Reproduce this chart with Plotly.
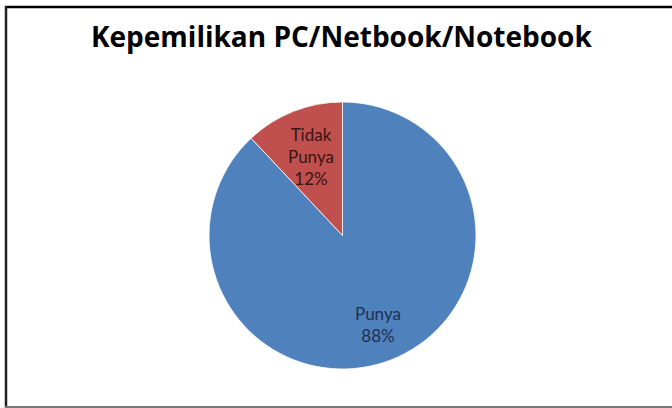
import math
import plotly.graph_objects as go

title = "Kepemilikan PC/Netbook/Notebook"
labels = ["Punya", "Tidak Punya"]
label_text = ["Punya", "Tidak<br>Punya"]
values = [88, 12]
colors = ["#4F81BD", "#C0504D"]
text_colors = ["#1E3150", "#3A1414"]
label_radius = [0.72, 0.64]  # fraction of pie radius where each label sits

W, H = 672, 408
cx, cy, r = 342.5, 235.5, 133.5

fig = go.Figure(go.Pie(
    labels=labels,
    values=values,
    textinfo="none",
    sort=False,
    direction="clockwise",
    rotation=0,
    marker=dict(colors=colors, line=dict(color="white", width=0.8)),
    domain=dict(x=[(cx - r) / W, (cx + r) / W], y=[1 - (cy + r) / H, 1 - (cy - r) / H]),
    showlegend=False,
    hoverinfo="label+percent",
))

# data labels placed at each slice's mid-angle (derived from the values)
total = sum(values)
cum = 0
annotations = []
for lab, v, tc, f in zip(label_text, values, text_colors, label_radius):
    mid = (cum + v / 2) / total * 2 * math.pi
    cum += v
    px = cx + f * r * math.sin(mid)
    py = cy - f * r * math.cos(mid)
    annotations.append(dict(
        x=px / W, y=1 - py / H, xref="paper", yref="paper",
        text=f"{lab}<br>{round(v / total * 100)}%",
        showarrow=False, xanchor="center", yanchor="middle", align="center",
        font=dict(family="Lato", size=17, color=tc),
    ))

fig.update_layout(
    width=W, height=H,
    margin=dict(l=0, r=0, t=0, b=0),
    paper_bgcolor="white",
    title=dict(text=title, x=0.508, xanchor="center", y=1 - 37 / H, yanchor="middle",
               font=dict(family="Open Sans", size=28, color="black", weight=700)),
    annotations=annotations,
    shapes=[
        dict(type="line", xref="paper", yref="paper", x0=5 / W, x1=1, y0=1 - 7 / H, y1=1 - 7 / H,
             line=dict(color="black", width=2.5)),
        dict(type="line", xref="paper", yref="paper", x0=6 / W, x1=6 / W, y0=0, y1=1 - 6 / H,
             line=dict(color="#222222", width=2.5)),
        dict(type="line", xref="paper", yref="paper", x0=5 / W, x1=1, y0=1 / H, y1=1 / H,
             line=dict(color="#777777", width=2)),
    ],
)

fig.write_html("out.html")
